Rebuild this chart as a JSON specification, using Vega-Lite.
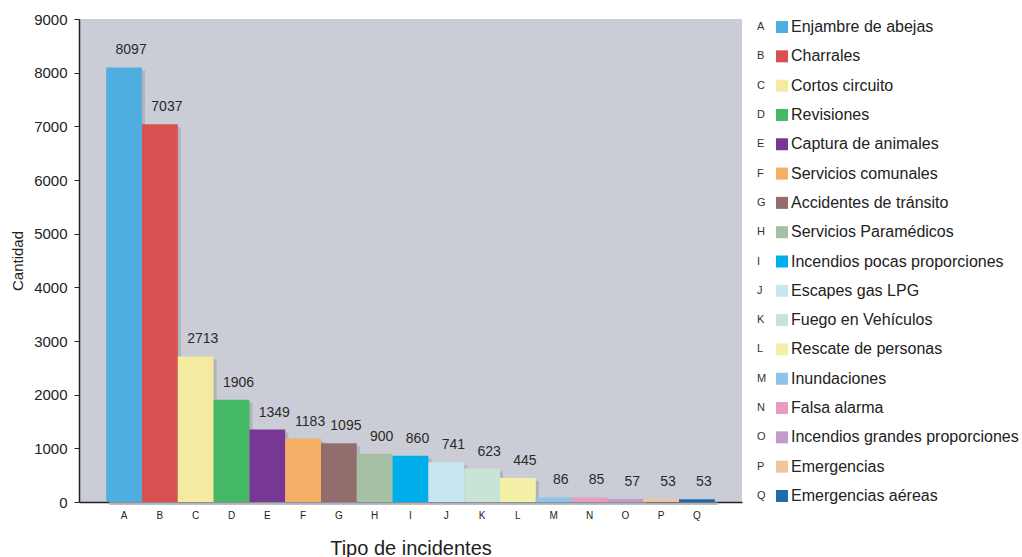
{
  "$schema": "https://vega.github.io/schema/vega-lite/v6.json",
  "padding": {"left": 10, "top": 12, "right": 0, "bottom": 0},
  "background": "white",
  "config": {
    "view": {"stroke": null},
    "font": "Liberation Sans",
    "axis": {"labelFont": "Liberation Sans", "titleFont": "Liberation Sans", "labelColor": "#222222", "titleColor": "#222222", "grid": false, "domainColor": "#222222", "tickColor": "#222222"}
  },
  "data": {
    "values": [
      {"letra": "A", "tipo": "Enjambre de abejas", "cantidad": 8097},
      {"letra": "B", "tipo": "Charrales", "cantidad": 7037},
      {"letra": "C", "tipo": "Cortos circuito", "cantidad": 2713},
      {"letra": "D", "tipo": "Revisiones", "cantidad": 1906},
      {"letra": "E", "tipo": "Captura de animales", "cantidad": 1349},
      {"letra": "F", "tipo": "Servicios comunales", "cantidad": 1183},
      {"letra": "G", "tipo": "Accidentes de tránsito", "cantidad": 1095},
      {"letra": "H", "tipo": "Servicios Paramédicos", "cantidad": 900},
      {"letra": "I", "tipo": "Incendios pocas proporciones", "cantidad": 860},
      {"letra": "J", "tipo": "Escapes gas LPG", "cantidad": 741},
      {"letra": "K", "tipo": "Fuego en Vehículos", "cantidad": 623},
      {"letra": "L", "tipo": "Rescate de personas", "cantidad": 445},
      {"letra": "M", "tipo": "Inundaciones", "cantidad": 86},
      {"letra": "N", "tipo": "Falsa alarma", "cantidad": 85},
      {"letra": "O", "tipo": "Incendios grandes proporciones", "cantidad": 57},
      {"letra": "P", "tipo": "Emergencias", "cantidad": 53},
      {"letra": "Q", "tipo": "Emergencias aéreas", "cantidad": 53}
    ]
  },
  "spacing": 5,
  "hconcat": [
    {
      "width": 663,
      "height": 483,
      "view": {"fill": "#CACDD5", "stroke": null},
      "encoding": {
        "x": {
          "field": "letra", "type": "nominal", "sort": null,
          "scale": {"paddingInner": 0, "paddingOuter": 0.76},
          "axis": {"title": "Tipo de incidentes", "labelAngle": 0, "labelFontSize": 10, "labelPadding": 8, "tickSize": 0, "titleFontSize": 20, "titleFontWeight": "normal", "titlePadding": 18, "domainWidth": 1.5}
        },
        "y": {
          "field": "cantidad", "type": "quantitative",
          "scale": {"domain": [0, 9000], "nice": false},
          "axis": {"title": "Cantidad", "values": [0, 1000, 2000, 3000, 4000, 5000, 6000, 7000, 8000, 9000], "format": "d", "labelFontSize": 15, "labelPadding": 7, "tickSize": 5, "titleFontSize": 15, "titleFontWeight": "normal", "titlePadding": 8, "domainWidth": 1.5}
        }
      },
      "layer": [
        {
          "mark": {"type": "bar", "color": "#A9ACB4", "xOffset": 3, "yOffset": 3, "opacity": 0.8}
        },
        {
          "mark": {"type": "bar"},
          "encoding": {
            "color": {
              "field": "letra", "type": "nominal", "legend": null,
              "scale": {
                "domain": ["A","B","C","D","E","F","G","H","I","J","K","L","M","N","O","P","Q"],
                "range": ["#4FAEE0","#D95050","#F5EBA0","#45B865","#763894","#F5AE65","#936C6E","#A5C0A5","#00AEEB","#C8E6F2","#C8E4D4","#F5F0A8","#8DC4EA","#EB9AC0","#C49ACB","#F2C49E","#1B6CAE"]
              }
            }
          }
        },
        {
          "mark": {"type": "text", "baseline": "bottom", "dx": 7, "dy": -10, "fontSize": 14, "color": "#2a2a2a"},
          "encoding": {"text": {"field": "cantidad", "type": "quantitative", "format": "d"}}
        }
      ]
    },
    {
      "width": 270,
      "height": 483,
      "encoding": {
        "x": {"value": 0},
        "y": {
          "field": "letra", "type": "nominal", "sort": null,
          "scale": {"type": "point", "padding": 0.24},
          "axis": null
        }
      },
      "layer": [
        {
          "mark": {"type": "text", "align": "left", "baseline": "middle", "xOffset": 10, "yOffset": 1, "fontSize": 11, "color": "#333333"},
          "encoding": {"text": {"field": "letra"}}
        },
        {
          "mark": {"type": "point", "shape": "square", "filled": true, "size": 144, "opacity": 1, "xOffset": 35, "yOffset": 1},
          "encoding": {
            "color": {
              "field": "letra", "type": "nominal", "legend": null,
              "scale": {
                "domain": ["A","B","C","D","E","F","G","H","I","J","K","L","M","N","O","P","Q"],
                "range": ["#4FAEE0","#D95050","#F5EBA0","#45B865","#763894","#F5AE65","#936C6E","#A5C0A5","#00AEEB","#C8E6F2","#C8E4D4","#F5F0A8","#8DC4EA","#EB9AC0","#C49ACB","#F2C49E","#1B6CAE"]
              }
            }
          }
        },
        {
          "mark": {"type": "text", "align": "left", "baseline": "middle", "xOffset": 44, "yOffset": 1, "fontSize": 16, "color": "#222222"},
          "encoding": {"text": {"field": "tipo"}}
        }
      ]
    }
  ]
}
